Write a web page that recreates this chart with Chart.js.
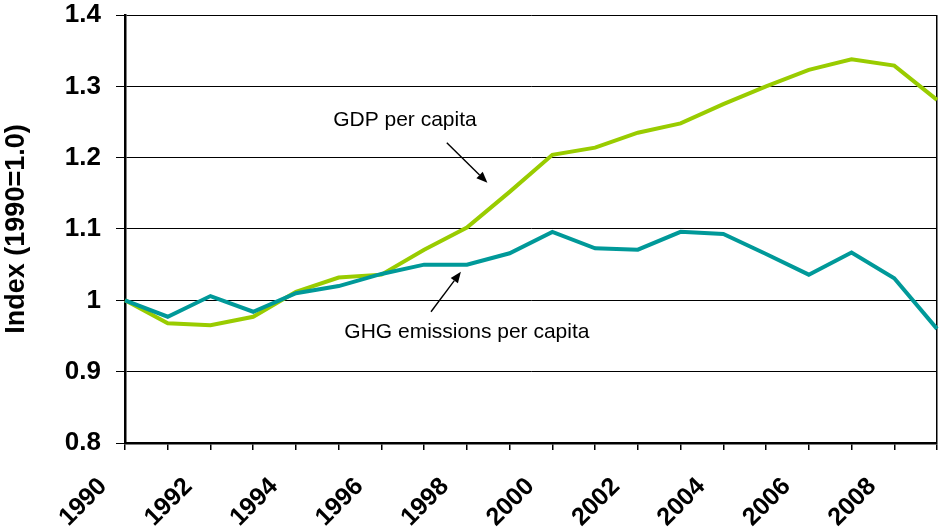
<!DOCTYPE html>
<html>
<head>
<meta charset="utf-8">
<script src="https://cdn.jsdelivr.net/npm/chart.js@4/dist/chart.umd.min.js"></script>
<style>
  html, body { margin: 0; padding: 0; background: #ffffff; }
  #wrap { width: 940px; height: 530px; position: relative; }
</style>
</head>
<body>
<div id="wrap"><canvas id="c" width="940" height="530"></canvas></div>
<script>
const years = ['1990','1991','1992','1993','1994','1995','1996','1997','1998','1999',
               '2000','2001','2002','2003','2004','2005','2006','2007','2008','2009'];
const gdpPerCapita = [1.000, 0.968, 0.965, 0.977, 1.012, 1.032, 1.036, 1.071, 1.102, 1.152,
                      1.204, 1.214, 1.235, 1.248, 1.275, 1.300, 1.323, 1.338, 1.329, 1.281];
const ghgPerCapita = [1.000, 0.977, 1.006, 0.984, 1.010, 1.020, 1.037, 1.050, 1.050, 1.066,
                      1.096, 1.073, 1.071, 1.096, 1.093, 1.065, 1.036, 1.067, 1.031, 0.960];
const seriesNames = ['GDP per capita', 'GHG emissions per capita'];
const yTitle = 'Index (1990=1.0)';

// Annotation positions in data units (category index, index value)
const annotations = [
  { text: seriesNames[0], tx: 6.55, ty: 1.253, from: [7.53, 1.221], to: [8.48, 1.165] },
  { text: seriesNames[1], tx: 8.0, ty: 0.956, from: [7.16, 0.984], to: [7.86, 1.040] }
];

const FONT = '"Liberation Sans", Arial, sans-serif';

const annotationPlugin = {
  id: 'arrows',
  afterDatasetsDraw(chart) {
    const ctx = chart.ctx, xs = chart.scales.x, ys = chart.scales.y;
    ctx.save();
    ctx.fillStyle = '#000';
    ctx.strokeStyle = '#000';
    ctx.font = '21px ' + FONT;
    ctx.textAlign = 'center';
    ctx.textBaseline = 'middle';
    annotations.forEach(a => {
      ctx.fillText(a.text, xs.getPixelForValue(a.tx), ys.getPixelForValue(a.ty));
      const x1 = xs.getPixelForValue(a.from[0]), y1 = ys.getPixelForValue(a.from[1]);
      const x2 = xs.getPixelForValue(a.to[0]), y2 = ys.getPixelForValue(a.to[1]);
      const ang = Math.atan2(y2 - y1, x2 - x1);
      const hl = 11, hw = 4.5;
      const bx = x2 - hl * Math.cos(ang), by = y2 - hl * Math.sin(ang);
      ctx.lineWidth = 1.4;
      ctx.beginPath(); ctx.moveTo(x1, y1); ctx.lineTo(bx, by); ctx.stroke();
      ctx.beginPath();
      ctx.moveTo(x2, y2);
      ctx.lineTo(bx + hw * Math.sin(ang), by - hw * Math.cos(ang));
      ctx.lineTo(bx - hw * Math.sin(ang), by + hw * Math.cos(ang));
      ctx.closePath(); ctx.fill();
    });
    ctx.restore();
  }
};

new Chart(document.getElementById('c'), {
  type: 'line',
  data: {
    labels: years,
    datasets: [
      { label: seriesNames[1], data: ghgPerCapita, borderColor: '#009999', backgroundColor: '#009999',
        borderWidth: 4, pointRadius: 0, tension: 0, borderJoinStyle: 'miter' },
      { label: seriesNames[0], data: gdpPerCapita, borderColor: '#99CC00', backgroundColor: '#99CC00',
        borderWidth: 4, pointRadius: 0, tension: 0, borderJoinStyle: 'miter' }
    ]
  },
  options: {
    responsive: false,
    animation: false,
    devicePixelRatio: 1,
    layout: { padding: { left: 0, right: 3, top: 15, bottom: 0 } },
    plugins: { legend: { display: false }, tooltip: { enabled: false } },
    scales: {
      x: {
        type: 'category',
        offset: false,
        grid: {
          drawOnChartArea: true,
          color: c => (c.index === years.length - 1 ? '#000' : 'rgba(0,0,0,0)'),
          lineWidth: 1.5,
          tickColor: '#000',
          tickLength: 7,
          tickWidth: 1.5
        },
        border: { display: true, color: '#000', width: 2.5 },
        ticks: {
          autoSkip: false,
          minRotation: 45,
          maxRotation: 45,
          color: '#000',
          padding: 22,
          labelOffset: -22,
          font: { family: FONT, size: 25, weight: 'bold' },
          callback: function(v, i) { return i % 2 === 0 ? this.getLabelForValue(v) : ''; }
        },
        afterFit: s => { s.height = 87; s.paddingLeft = 0; s.paddingRight = 0; }
      },
      y: {
        min: 0.8, max: 1.4,
        grid: { color: '#000', lineWidth: 1, tickLength: 9, drawTicks: true, tickColor: '#000' },
        border: { display: true, color: '#000', width: 2.5 },
        ticks: {
          stepSize: 0.1,
          color: '#000',
          padding: 15,
          font: { family: FONT, size: 26, weight: 'bold' },
          callback: v => (Math.abs(v - 1) < 1e-9 ? '1' : (Math.round(v * 10) / 10).toFixed(1))
        },
        title: {
          display: true,
          text: yTitle,
          color: '#000',
          padding: { top: 0, bottom: 0 },
          font: { family: FONT, size: 27, weight: 'bold' }
        },
        afterFit: s => { s.width = 125; s.paddingTop = 0; s.paddingBottom = 0; }
      }
    }
  },
  plugins: [annotationPlugin]
});
</script>
</body>
</html>
